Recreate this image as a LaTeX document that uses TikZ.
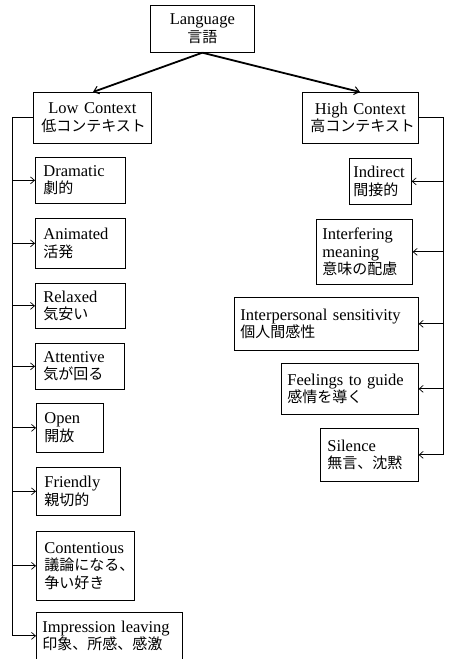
\documentclass[tikz,border=0pt]{standalone}
\usepackage{fontspec}
\setmainfont{Liberation Serif}[Scale=1.1]
\newfontfamily\jp{Noto Sans CJK JP}
\usetikzlibrary{arrows.meta}
\begin{document}
\begin{tikzpicture}[x=1pt,y=1pt,
  box/.style={draw, line width=0.7pt, inner xsep=8pt, inner ysep=0pt, align=left, anchor=north west,
    font=\fontsize{15}{17.5}\selectfont},
  cbox/.style={box, align=center},
  thick arrow/.style={line width=1.8pt, -{Straight Barb[length=5pt,width=8pt,line width=1pt]}},
  branch/.style={line width=0.8pt, -{Straight Barb[length=4pt,width=7pt,line width=0.7pt]}},
  trunk/.style={line width=1pt}]
\useasboundingbox (0,0) rectangle (448,-659);
% top
\node[cbox, minimum width=104pt, minimum height=47pt, text width=88pt] (lang) at (150,-5) {Language\\{\jp 言語}};
\node[cbox, minimum width=118pt, minimum height=51pt, text width=102pt] (low) at (33,-92) {Low Context\\{\jp 低コンテキスト}};
\node[cbox, minimum width=116pt, minimum height=51pt, text width=100pt] (high) at (302,-92) {High Context\\{\jp 高コンテキスト}};
\coordinate (lowtop) at (93,-92);
\coordinate (hightop) at (360,-92);
\draw[thick arrow] (lang.south) -- (lowtop);
\draw[thick arrow] (lang.south) -- (hightop);
% left boxes
\node[box, minimum width=90pt, minimum height=46pt, text width=74pt] (l1) at (35,-157) {Dramatic\\{\jp 劇的}};
\node[box, minimum width=90pt, minimum height=50pt, text width=74pt] (l2) at (35,-218) {Animated\\{\jp 活発}};
\node[box, minimum width=90pt, minimum height=45pt, text width=74pt] (l3) at (35,-283) {Relaxed\\{\jp 気安い}};
\node[box, minimum width=89pt, minimum height=46pt, text width=73pt] (l4) at (35,-343) {Attentive\\{\jp 気が回る}};
\node[box, minimum width=67pt, minimum height=49pt, text width=51pt] (l5) at (36,-403) {Open\\{\jp 開放}};
\node[box, minimum width=84pt, minimum height=48pt, text width=68pt] (l6) at (36,-467) {Friendly\\{\jp 親切的}};
\node[box, minimum width=98pt, minimum height=69pt, text width=82pt] (l7) at (36,-531) {Contentious\\{\jp 議論になる、}\\{\jp 争い好き}};
\node[box, minimum width=146pt, minimum height=47pt, text width=134pt, inner xsep=6pt] (l8) at (36,-612) {Impression leaving\\{\jp 印象、所感、感激}};
% right boxes
\node[box, minimum width=62pt, minimum height=46pt, text width=54pt, inner xsep=4pt] (r1) at (349,-158) {Indirect\\{\jp 間接的}};
\node[box, minimum width=96pt, minimum height=65pt, text width=84pt, inner xsep=6pt] (r2) at (316,-219) {Interfering\\meaning\\{\jp 意味の配慮}};
\node[box, minimum width=184pt, minimum height=53pt, text width=172pt, inner xsep=6pt] (r3) at (234,-297) {Interpersonal sensitivity\\{\jp 個人間感性}};
\node[box, minimum width=137pt, minimum height=51pt, text width=125pt, inner xsep=6pt] (r4) at (281,-363) {Feelings to guide\\{\jp 感情を導く}};
\node[box, minimum width=98pt, minimum height=53pt, text width=84pt, inner xsep=7pt] (r5) at (320,-428) {Silence\\{\jp 無言、沈黙}};
% left trunk
\coordinate (lt) at (12,0);
\draw[trunk] (low.west) -- (low.west -| lt) -- (l8.west -| lt);
\foreach \n in {l1,l2,l3,l4,l5,l6,l7,l8}
  \draw[branch] (\n.west -| lt) -- (\n.west);
% right trunk
\coordinate (rt) at (443,0);
\draw[trunk] (high.east) -- (high.east -| rt) -- (r5.east -| rt);
\foreach \n in {r1,r2,r3,r4,r5}
  \draw[branch] (\n.east -| rt) -- (\n.east);
\end{tikzpicture}
\end{document}
